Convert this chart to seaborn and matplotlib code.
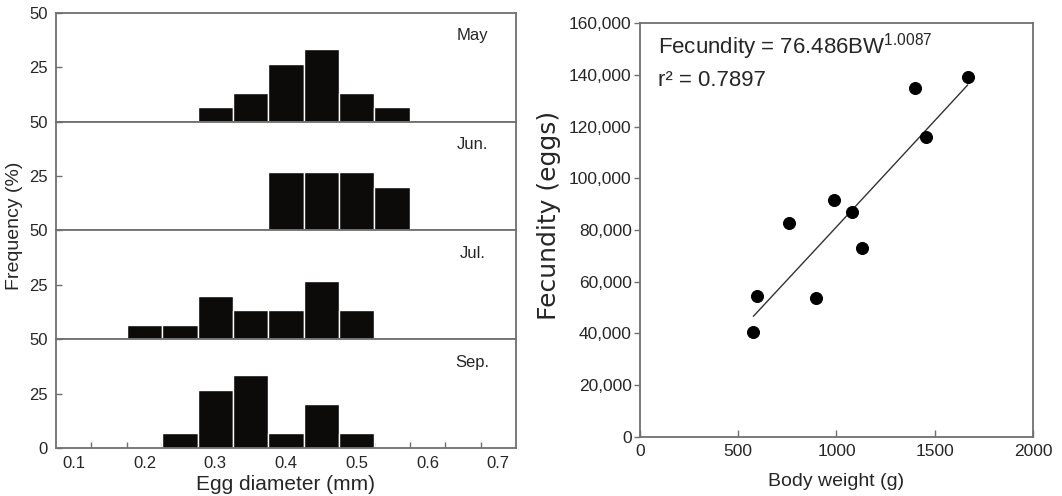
import numpy as np
import pandas as pd
import matplotlib
matplotlib.use("Agg")
import matplotlib.pyplot as plt
import seaborn as sns
from matplotlib.ticker import FuncFormatter

sns.set_style("white")
plt.rcParams['font.family'] = ['Liberation Sans', 'DejaVu Sans']
plt.rcParams['mathtext.fontset'] = 'custom'
plt.rcParams['mathtext.rm'] = 'Liberation Sans'
plt.rcParams['mathtext.it'] = 'Liberation Sans'

# egg diameter histograms (bin centres in mm, frequency in %)
months = ["May", "Jun.", "Jul.", "Sep."]
may_x = [0.30, 0.35, 0.40, 0.45, 0.50, 0.55]
may_f = [6.67, 13.33, 26.67, 33.33, 13.33, 6.67]
jun_x = [0.40, 0.45, 0.50, 0.55]
jun_f = [26.67, 26.67, 26.67, 20.0]
jul_x = [0.20, 0.25, 0.30, 0.35, 0.40, 0.45, 0.50]
jul_f = [6.67, 6.67, 20.0, 13.33, 13.33, 26.67, 13.33]
sep_x = [0.25, 0.30, 0.35, 0.40, 0.45, 0.50]
sep_f = [6.67, 26.67, 33.33, 6.67, 20.0, 6.67]
hist_x = [may_x, jun_x, jul_x, sep_x]
hist_f = [may_f, jun_f, jul_f, sep_f]
xtick_labels = ["0.1", "0.2", "0.3", "0.4", "0.5", "0.6", "0.7"]

# fecundity vs body weight
body_weight = [577, 594, 760, 896, 987, 1077, 1131, 1398, 1454, 1668]
fecundity = [40700, 54500, 82800, 53600, 91500, 87100, 73000, 134800, 116100, 139300]
coef_a = 76.486
coef_b = 1.0087
r2 = 0.7897

gray = "#707070"
txt = "#262626"

fig = plt.figure(figsize=(10.62, 4.96), dpi=100)
gs = fig.add_gridspec(4, 1, left=0.0527, right=0.4859, top=0.9738, bottom=0.0968, hspace=0)

for i in range(4):
    ax = fig.add_subplot(gs[i])
    df = pd.DataFrame({"d": hist_x[i], "f": hist_f[i]})
    sns.histplot(data=df, x="d", weights="f", binwidth=0.05, binrange=(0.175, 0.575),
                 color="#0d0a0a", edgecolor="white", linewidth=1.0, alpha=1, ax=ax)
    ax.set_xlim(0.075, 0.725)
    ax.set_ylim(0, 50)
    ax.set_xlabel("")
    ax.set_ylabel("")
    if i < 3:
        ax.set_yticks([25, 50])
    else:
        ax.set_yticks([0, 25, 50])
    ax.set_xticks(np.arange(0.125, 0.7, 0.05))
    ax.set_xticklabels([])
    ax.set_xticks([0.1, 0.2, 0.3, 0.4, 0.5, 0.6, 0.7], minor=True)
    if i == 3:
        ax.set_xticklabels(xtick_labels, minor=True)
    ax.tick_params(axis="x", which="major", direction="in", length=4, width=1, color=gray, bottom=(i == 3))
    ax.tick_params(axis="x", which="minor", length=0, pad=6, labelsize=12, labelcolor=txt)
    ax.tick_params(axis="y", direction="in", length=4, width=1, color=gray, labelsize=12,
                   labelcolor=txt, pad=6, left=True)
    for s in ax.spines.values():
        s.set_color(gray)
        s.set_linewidth(1.3)
    ax.text(0.905, 0.79, months[i], transform=ax.transAxes, ha="center", va="center",
            fontsize=12, color=txt)

fig.text(0.014, 0.545, "Frequency (%)", rotation=90, ha="center", va="center", fontsize=14, color=txt)
fig.text(0.2693, 0.004, "Egg diameter (mm)", ha="center", va="bottom", fontsize=15, color=txt)

# right panel
ax2 = fig.add_axes([0.6026, 0.119, 0.3701, 0.8346])
sns.scatterplot(x=body_weight, y=fecundity, s=75, color="black", edgecolor="black", ax=ax2, zorder=3)
bw_line = np.linspace(min(body_weight), max(body_weight), 50)
sns.lineplot(x=bw_line, y=coef_a * bw_line ** coef_b, color="#333333", linewidth=1.0, ax=ax2)
ax2.set_xlim(0, 2000)
ax2.set_ylim(0, 160000)
ax2.set_xticks([0, 500, 1000, 1500, 2000])
ax2.set_yticks(np.arange(0, 160001, 20000))
ax2.yaxis.set_major_formatter(FuncFormatter(lambda v, p: f"{int(v):,}"))
ax2.tick_params(axis="x", direction="in", length=5, width=1, color=gray, labelsize=12.5,
                labelcolor=txt, pad=5, bottom=True)
ax2.tick_params(axis="y", direction="out", length=4, width=1, color=gray, labelsize=12.5,
                labelcolor=txt, pad=2, left=True)
for s in ax2.spines.values():
    s.set_color(gray)
    s.set_linewidth(1.3)
ax2.set_xlabel("Body weight (g)", fontsize=14, color=txt, labelpad=10)
ax2.set_ylabel("Fecundity (eggs)", fontsize=18, color=txt, family="DejaVu Sans")
ax2.yaxis.set_label_coords(-0.201, 0.534)
ax2.text(0.045, 0.942, r"Fecundity = 76.486BW$^{1.0087}$", transform=ax2.transAxes,
         ha="left", va="center", fontsize=16, color=txt)
ax2.text(0.045, 0.862, f"r² = {r2}", transform=ax2.transAxes,
         ha="left", va="center", fontsize=16, color=txt)

fig.savefig("out.png", dpi=100)
